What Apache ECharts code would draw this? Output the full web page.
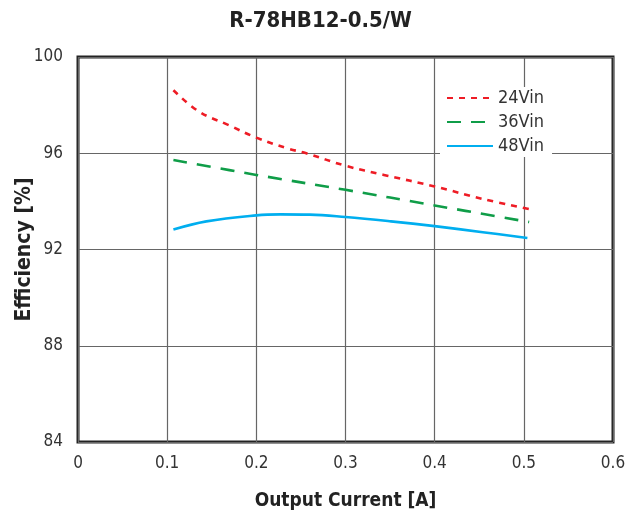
<!DOCTYPE html>
<html><head><meta charset="utf-8">
<script src="https://cdn.jsdelivr.net/npm/echarts@6/dist/echarts.min.js"></script>
<style>html,body{margin:0;padding:0;background:#fff}#c{width:641px;height:519px}</style>
</head><body><div id="c"></div>
<script>
const FONT = '"Liberation Sans Narrow", "DejaVu Sans Condensed", "Noto Sans", sans-serif';
const titleText = 'R-78HB12-0.5/W';
const xTicks = [0, 0.1, 0.2, 0.3, 0.4, 0.5, 0.6];
const yTicks = [84, 88, 92, 96, 100];
const seriesNames = ['24Vin', '36Vin', '48Vin'];
const current24 = [0.107, 0.135, 0.169, 0.2, 0.235, 0.256, 0.3, 0.343, 0.4, 0.454, 0.506];
const eff24 =     [98.62, 97.75, 97.17, 96.65, 96.2, 96.0, 95.48, 95.1, 94.62, 94.1, 93.68];
const current36 = [0.107, 0.2, 0.3, 0.4, 0.506];
const eff36 =     [95.72, 95.1, 94.48, 93.83, 93.14];
const current48 = [0.107, 0.144, 0.2, 0.227, 0.26, 0.3, 0.351, 0.4, 0.454, 0.504];
const eff48 =     [92.83, 93.17, 93.42, 93.46, 93.45, 93.35, 93.17, 92.97, 92.72, 92.48];

const zip = (a, b) => a.map((v, i) => [v, b[i]]);
const chart = echarts.init(document.getElementById('c'));
chart.setOption({
  animation: false,
  backgroundColor: '#fff',
  title: { text: titleText, left: 'center', top: 5,
    textStyle: { fontFamily: FONT, fontSize: 22, fontWeight: 'bold', color: '#222' } },
  grid: { left: 78, right: 28, top: 57, bottom: 77, show: true, borderColor: '#222', borderWidth: 3,
    backgroundColor: 'transparent', containLabel: false, outerBoundsMode: 'none' },
  legend: {
    orient: 'vertical', left: 440, top: 87, itemWidth: 46, itemHeight: 14, itemGap: 6,
    backgroundColor: '#fff', padding: [2, 8, 2, 6],
    itemStyle: { opacity: 0 },
    textStyle: { fontFamily: FONT, fontSize: 18, color: '#333' },
    data: seriesNames
  },
  xAxis: {
    type: 'value', min: 0, max: 0.6, interval: 0.1,
    name: 'Output Current [A]', nameLocation: 'middle', nameGap: 50,
    nameTextStyle: { fontFamily: FONT, fontSize: 19, fontWeight: 'bold', color: '#222' },
    axisLine: { show: false }, axisTick: { show: false },
    axisLabel: { fontFamily: FONT, fontSize: 17, color: '#333', margin: 13,
      formatter: v => xTicks.includes(Math.round(v * 10) / 10) ? String(Math.round(v * 10) / 10) : '' },
    splitLine: { show: true, lineStyle: { color: '#666', width: 1.2 } }
  },
  yAxis: {
    type: 'value', min: 84, max: 100, interval: 4,
    name: 'Efficiency [%]', nameLocation: 'middle', nameGap: 43, nameRotate: 90, nameMoveOverlap: false,
    nameTextStyle: { fontFamily: FONT, fontSize: 21, fontWeight: 'bold', color: '#222' },
    axisLine: { show: false }, axisTick: { show: false },
    axisLabel: { fontFamily: FONT, fontSize: 17, color: '#333', margin: 15,
      formatter: v => yTicks.includes(v) ? String(v) : '' },
    splitLine: { show: true, lineStyle: { color: '#666', width: 1.2 } }
  },
  series: [
    { name: seriesNames[0], type: 'line', data: zip(current24, eff24), smooth: 0.4, showSymbol: false, symbol: 'none',
      itemStyle: { color: '#ee1c25' }, lineStyle: { color: '#ee1c25', width: 2.6, type: [6, 6] } },
    { name: seriesNames[1], type: 'line', data: zip(current36, eff36), smooth: 0.4, showSymbol: false, symbol: 'none',
      itemStyle: { color: '#0f9d48' }, lineStyle: { color: '#0f9d48', width: 2.6, type: [14, 10] } },
    { name: seriesNames[2], type: 'line', data: zip(current48, eff48), smooth: 0.4, showSymbol: false, symbol: 'none',
      itemStyle: { color: '#00aeef' }, lineStyle: { color: '#00aeef', width: 2.6 } }
  ]
});
</script></body></html>
